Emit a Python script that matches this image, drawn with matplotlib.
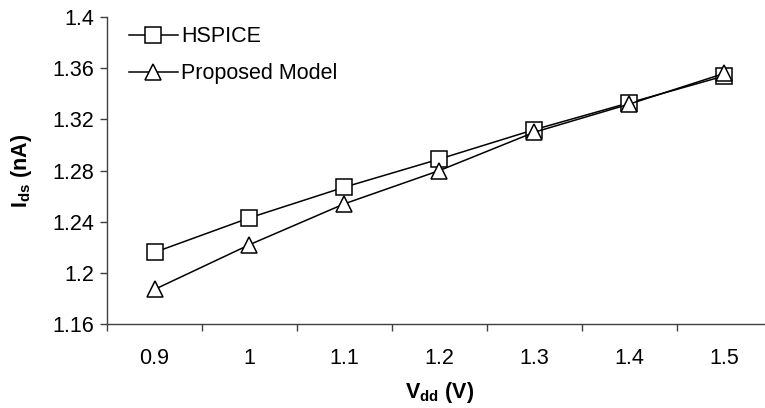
import matplotlib
matplotlib.use("Agg")
import matplotlib.pyplot as plt
import numpy as np

plt.rcParams["font.family"] = ["Liberation Sans", "DejaVu Sans"]
plt.rcParams["mathtext.fontset"] = "custom"
plt.rcParams["mathtext.rm"] = "Liberation Sans:bold"
plt.rcParams["mathtext.it"] = "Liberation Sans:bold"
plt.rcParams["mathtext.bf"] = "Liberation Sans:bold"

# data
vdd = ["0.9", "1", "1.1", "1.2", "1.3", "1.4", "1.5"]
hspice = [1.216, 1.243, 1.267, 1.289, 1.312, 1.333, 1.354]
proposed = [1.187, 1.222, 1.254, 1.280, 1.310, 1.332, 1.356]
yticks = [1.16, 1.2, 1.24, 1.28, 1.32, 1.36, 1.4]
ytick_labels = ["1.16", "1.2", "1.24", "1.28", "1.32", "1.36", "1.4"]

fs = 15.5

fig = plt.figure(figsize=(7.65, 4.08), dpi=100)
ax = fig.add_axes([0.1399, 0.206, 0.869, 0.752])

x = np.arange(len(vdd))
ax.plot(x, hspice, color="black", lw=1.1, marker="s", ms=11,
        mfc="white", mec="black", mew=1.1, label="HSPICE")
ax.plot(x, proposed, color="black", lw=1.1, marker="^", ms=12,
        mfc="white", mec="black", mew=1.1, label="Proposed Model")

ax.set_xlim(-0.5, len(vdd) - 0.5)
ax.set_ylim(1.16, 1.4)

# category labels in the middle, tick marks at the boundaries
ax.set_xticks(x)
ax.set_xticklabels(vdd, fontsize=fs)
ax.tick_params(axis="x", which="major", length=0, pad=17)
ax.set_xticks(np.arange(len(vdd) + 1) - 0.5, minor=True)
ax.tick_params(axis="x", which="minor", length=5, width=1, color="#404040",
               direction="out")

ax.set_yticks(yticks)
ax.set_yticklabels(ytick_labels, fontsize=fs)
ax.tick_params(axis="y", length=5, width=1, color="#404040", direction="out", pad=4)

for s in ["top", "right"]:
    ax.spines[s].set_visible(False)
for s in ["left", "bottom"]:
    ax.spines[s].set_color("#404040")
    ax.spines[s].set_linewidth(1)

ax.set_xlabel(r"$\mathregular{V_{dd}}$ (V)", fontsize=fs, fontweight="bold")
ax.xaxis.set_label_coords(0.5, -0.241)
ax.xaxis.label.set_verticalalignment("baseline")
ax.set_ylabel(r"$\mathregular{I_{ds}}$ (nA)", fontsize=fs, fontweight="bold")
ax.yaxis.set_label_coords(-0.11, 0.5)

ax.legend(loc="upper left", bbox_to_anchor=(0.01, 1.02), frameon=False,
          fontsize=fs, handlelength=2.3, handletextpad=0.15, labelspacing=0.75,
          borderaxespad=0.3)

fig.savefig("out.png", dpi=100)
